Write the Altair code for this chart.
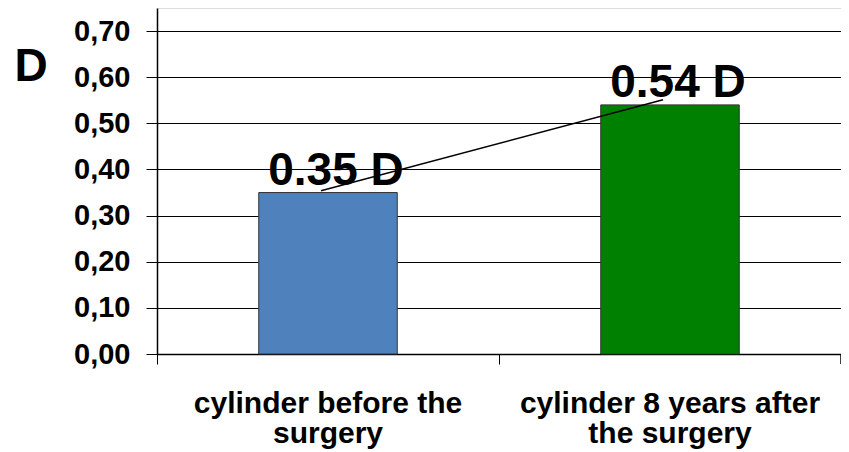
import altair as alt
import pandas as pd

categories = ["cylinder before the surgery", "cylinder 8 years after the surgery"]
label_lines = ["cylinder before the\\nsurgery", "cylinder 8 years after\\nthe surgery"]
values = [0.35, 0.54]
value_labels = ["0.35 D", "0.54 D"]
trend_values = [0.354, 0.551]
bar_colors = ["#4F81BD", "#008000"]
y_ticks = [0.0, 0.1, 0.2, 0.3, 0.4, 0.5, 0.6, 0.7]

df = pd.DataFrame({
    "category": categories,
    "value": values,
    "label": value_labels,
    "trend": trend_values,
})

FONT = "Liberation Sans"
W = 684
H = 346

label_expr = ("datum.label == '" + categories[0] + "' ? split('" + label_lines[0] + "', '\\n') : split('"
              + label_lines[1] + "', '\\n')")

x_enc = alt.X(
    "category:N",
    sort=categories,
    scale=alt.Scale(paddingInner=0, paddingOuter=0),
    axis=alt.Axis(
        title=None,
        labelAngle=0,
        bandPosition=0,
        tickSize=10,
        tickColor="black",
        domainColor="black",
        domainWidth=1.5,
        labelFont=FONT,
        labelFontSize=30,
        labelFontWeight="bold",
        labelColor="black",
        labelPadding=24,
        labelLineHeight=30,
        labelLimit=600,
        labelExpr=label_expr,
        grid=False,
    ),
)

y_scale = alt.Scale(domain=[0, 0.75], nice=False)

bars = alt.Chart(df).mark_bar(
    width=alt.RelativeBandSize(0.405), stroke="#333333", strokeWidth=1
).encode(
    x=x_enc,
    y=alt.Y(
        "value:Q",
        scale=y_scale,
        axis=alt.Axis(
            values=y_ticks,
            labelExpr="replace(format(datum.value, '.2f'), '.', ',')",
            labelFont=FONT,
            labelFontSize=29,
            labelFontWeight="bold",
            labelColor="black",
            tickSize=11,
            tickColor="black",
            labelPadding=16,
            domainColor="black",
            domainWidth=1.5,
            grid=True,
            gridColor="black",
            gridOpacity=1,
            gridWidth=1,
            title="D",
            titleAngle=0,
            titleAlign="left",
            titleBaseline="alphabetic",
            titleX=-143,
            titleY=72,
            titleFont=FONT,
            titleFontSize=46,
            titleFontWeight="bold",
            titleColor="black",
        ),
    ),
    color=alt.Color("category:N", scale=alt.Scale(domain=categories, range=bar_colors), legend=None),
)

texts = alt.Chart(df).mark_text(
    font=FONT, fontSize=46, fontWeight="bold", color="black",
    align="center", baseline="alphabetic", dx=8, dy=-8,
).encode(
    x=alt.X("category:N", sort=categories),
    y=alt.Y("value:Q", scale=y_scale),
    text="label:N",
)

line = alt.Chart(df).mark_line(color="black", strokeWidth=1.5, xOffset=-7).encode(
    x=alt.X("category:N", sort=categories),
    y=alt.Y("trend:Q", scale=y_scale),
)

end_tick = alt.Chart(df).mark_rule(color="black", strokeWidth=1).encode(
    x=alt.value(W), y=alt.value(H), y2=alt.value(H + 10)
)

chart = alt.layer(bars, line, texts, end_tick).properties(
    width=W,
    height=H,
    autosize="none",
    padding={"left": 149, "top": 0, "right": 0, "bottom": 102},
).configure_view(stroke="black", strokeWidth=1).configure(background="white")

chart.save("out.html", embed_options={"renderer": "svg", "actions": False})
